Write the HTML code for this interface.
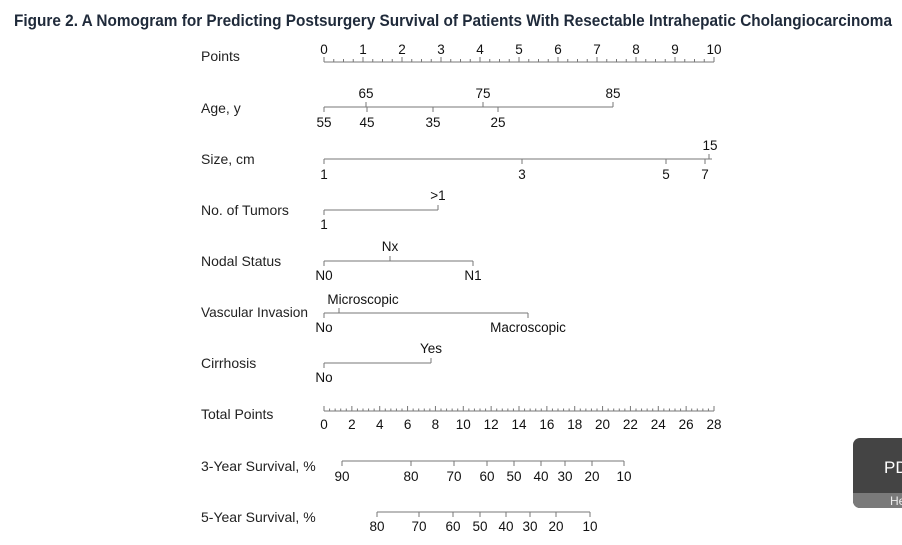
<!DOCTYPE html>
<html><head><meta charset="utf-8"><style>
html,body{margin:0;padding:0;background:#fff;width:902px;height:545px;overflow:hidden}
svg{display:block;font-family:"Liberation Sans",sans-serif}
</style></head><body>
<svg id="s" width="902" height="545" xmlns="http://www.w3.org/2000/svg">
<text x="14" y="26" font-size="17" font-weight="bold" fill="#1f2a3a" textLength="878" lengthAdjust="spacingAndGlyphs">Figure 2.  A Nomogram for Predicting Postsurgery Survival of Patients With Resectable Intrahepatic Cholangiocarcinoma</text>
<g font-size="14" fill="#222">
<text x="201" y="61">Points</text>
<text x="201" y="113">Age, y</text>
<text x="201" y="164">Size, cm</text>
<text x="201" y="215">No. of Tumors</text>
<text x="201" y="266">Nodal Status</text>
<text x="201" y="317" textLength="107" lengthAdjust="spacingAndGlyphs">Vascular Invasion</text>
<text x="201" y="368">Cirrhosis</text>
<text x="201" y="419">Total Points</text>
<text x="201" y="471">3-Year Survival, %</text>
<text x="201" y="522">5-Year Survival, %</text>
</g>
<g id="ax" stroke="#777" stroke-width="1" fill="none"></g>
<g id="tx" font-size="13.5" fill="#111" text-anchor="middle"></g>
<g>
<rect x="853" y="438" width="60" height="70" rx="7" fill="#444"/>
<path d="M853 493 H913 V501 a7 7 0 0 1 -7 7 H860 a7 7 0 0 1 -7 -7Z" fill="#7a7a7a"/>
<text x="884" y="473" font-size="17" fill="#fff">PD</text>
<text x="890" y="505" font-size="12" fill="#eee">He</text>
</g>
</svg>
<script>
var ax=document.getElementById('ax'),tx=document.getElementById('tx'),a='',t='';
function L(x1,y1,x2,y2){a+='<line x1="'+x1+'" y1="'+y1+'" x2="'+x2+'" y2="'+y2+'"/>';}
function T(x,y,s){t+='<text x="'+x+'" y="'+y+'">'+s+'</text>';}
L(324,62,714,62);
for(var i=0;i<=40;i++){var x=324+i*9.75;L(x,62,x,i%4?59:57);}
for(i=0;i<=10;i++)T(324+i*39,54,i);
L(324,107,613,107);
[[366,65],[483,75],[613,85]].forEach(function(p){L(p[0],107,p[0],102);T(p[0],98,p[1]);});
[[324,55],[367,45],[433,35],[498,25]].forEach(function(p){L(p[0],107,p[0],112);T(p[0],127,p[1]);});
L(324,159,712,159);
[[324,1],[522,3],[666,5],[705,7]].forEach(function(p){L(p[0],159,p[0],164);T(p[0],179,p[1]);});
L(709,159,709,154);T(710,150,15);
L(324,210,438,210);L(324,210,324,215);T(324,229,1);L(438,210,438,205);T(438,200,'&gt;1');
L(324,261,473,261);L(324,261,324,266);T(324,280,'N0');L(473,261,473,266);T(473,280,'N1');L(390,261,390,256);T(390,251,'Nx');
L(324,313,528,313);L(324,313,324,318);T(324,332,'No');L(528,313,528,318);T(528,332,'Macroscopic');L(339,313,339,308);T(363,304,'Microscopic');
L(324,363,431,363);L(324,363,324,368);T(324,382,'No');L(431,363,431,358);T(431,353,'Yes');
L(324,411,714,411);
for(i=0;i<=70;i++){x=324+i*390/70;L(x,411,x,i%5?408.5:406);}
for(i=0;i<=14;i++)T(324+i*27.857,429,i*2);
L(342,461,624,461);
[[342,90],[411,80],[454,70],[487,60],[514,50],[541,40],[565,30],[592,20],[624,10]].forEach(function(p){L(p[0],461,p[0],466);T(p[0],481,p[1]);});
L(377,512,590,512);
[[377,80],[419,70],[453,60],[480,50],[506,40],[530,30],[556,20],[590,10]].forEach(function(p){L(p[0],512,p[0],517);T(p[0],531,p[1]);});
ax.innerHTML=a;tx.innerHTML=t;
</script>
</body></html>
